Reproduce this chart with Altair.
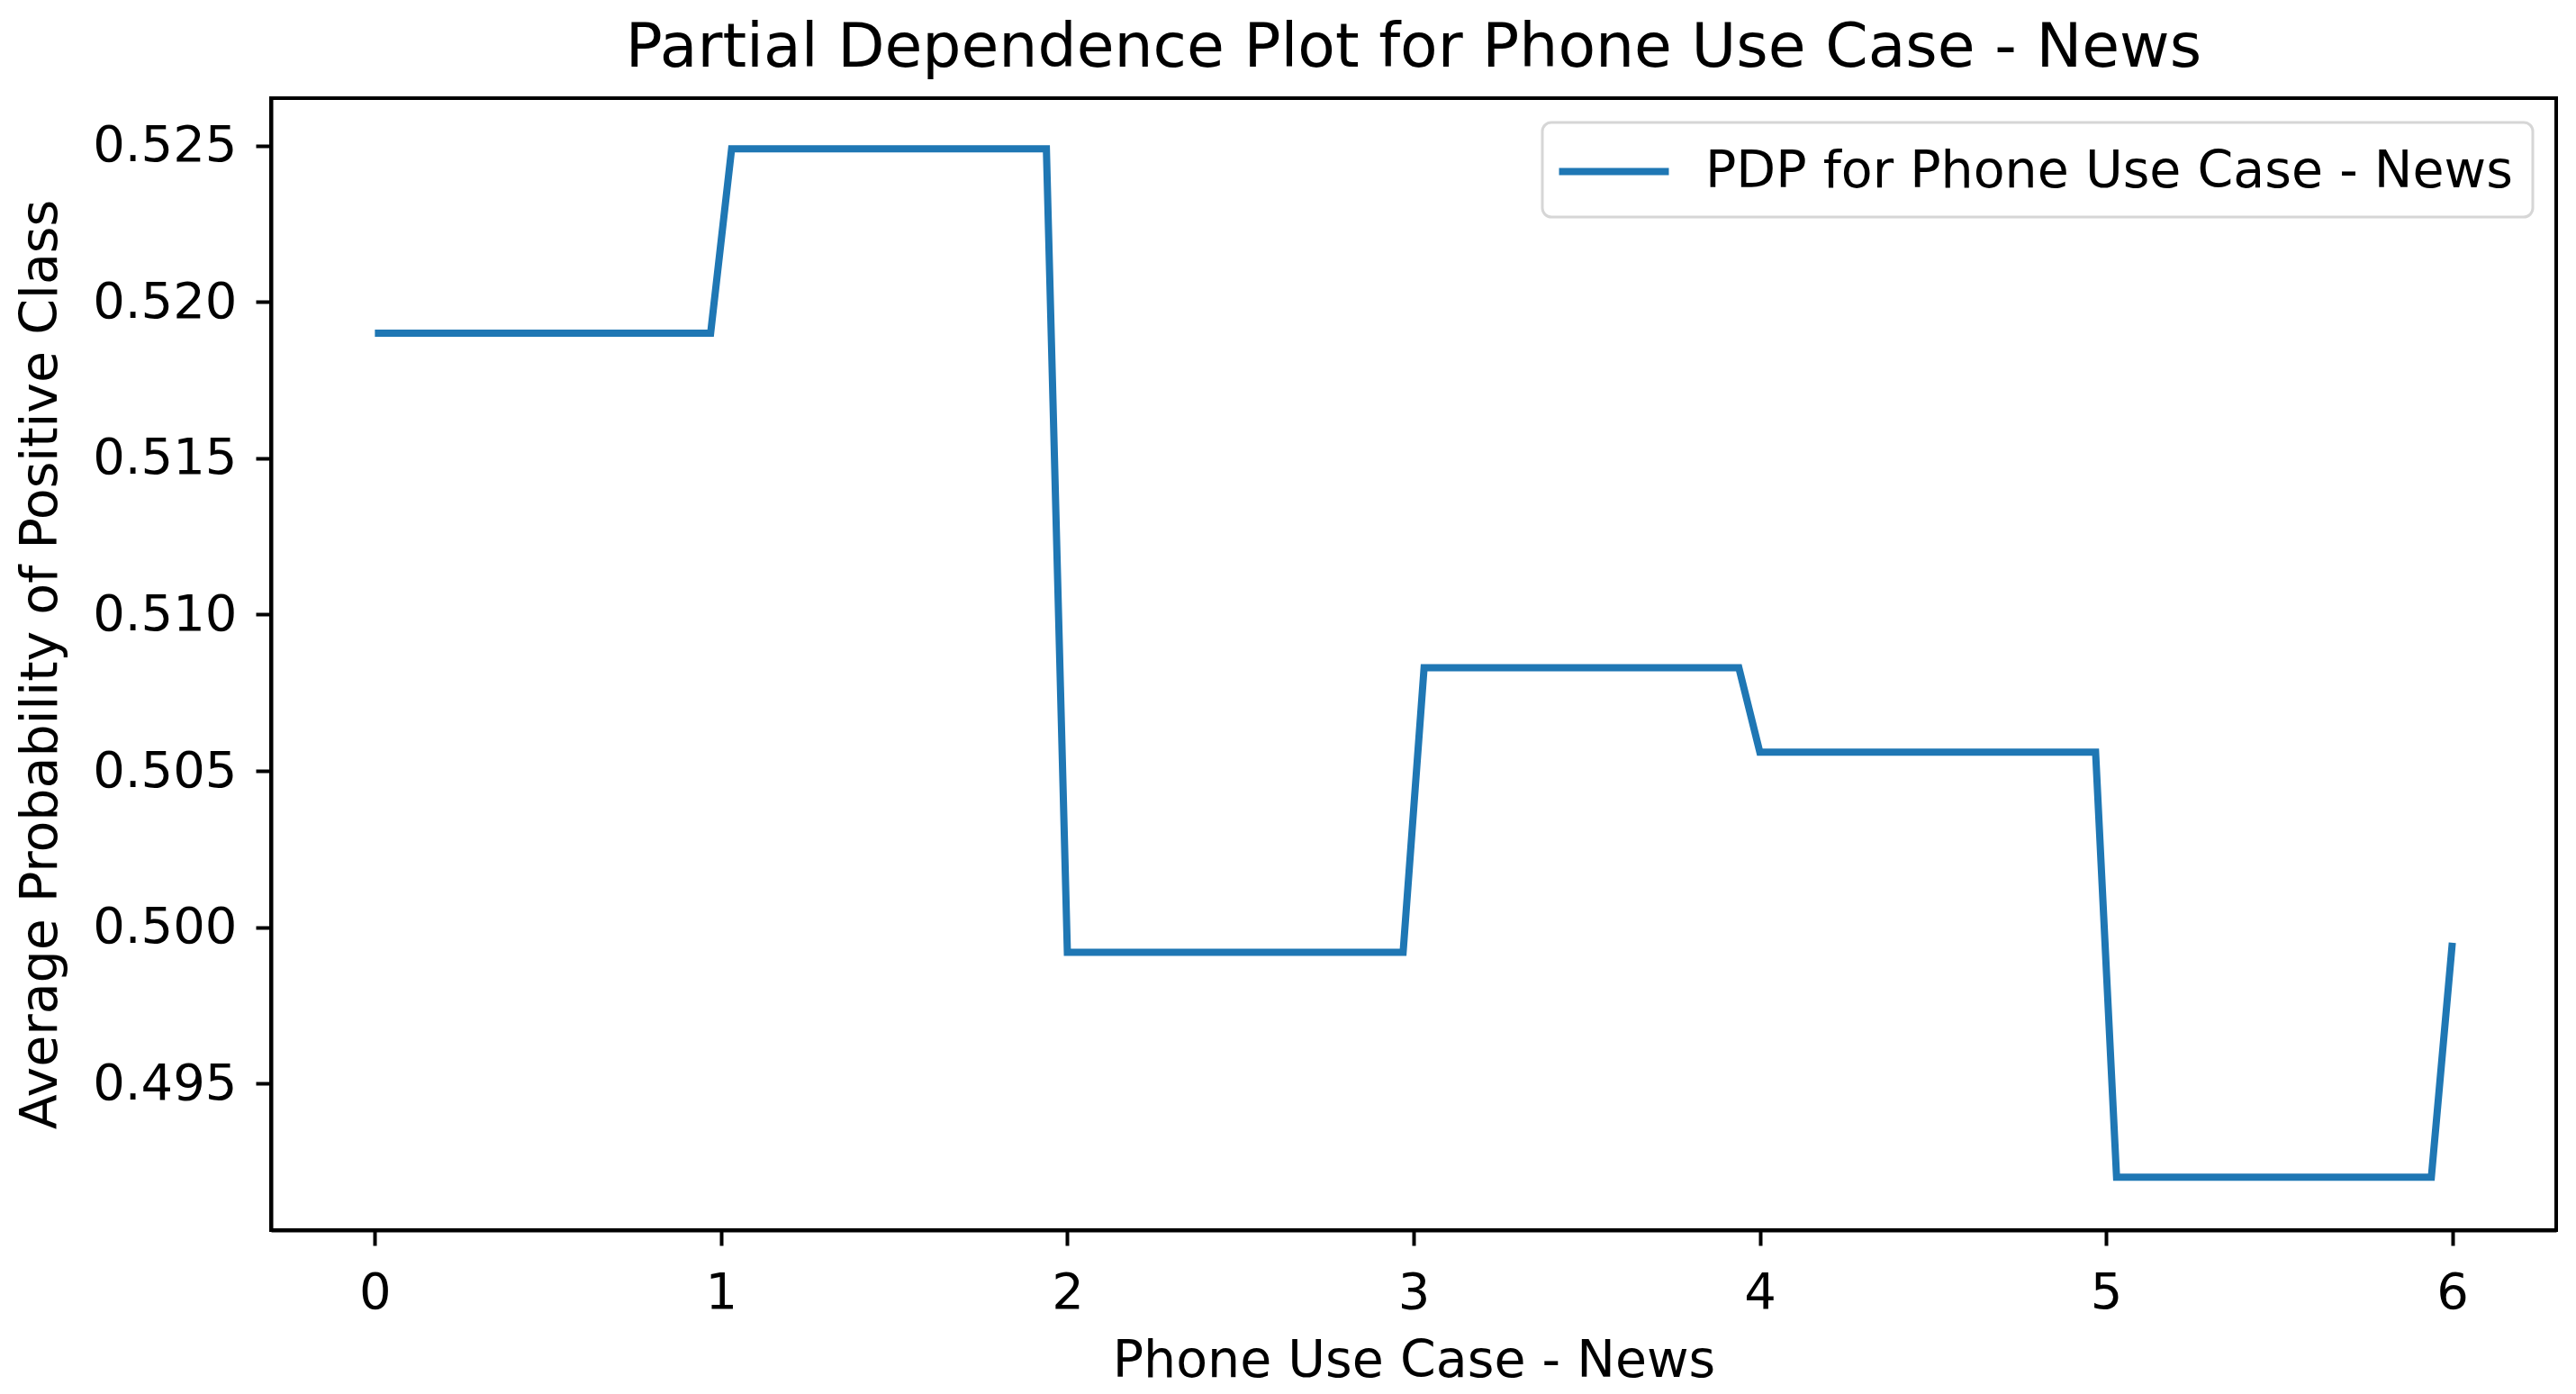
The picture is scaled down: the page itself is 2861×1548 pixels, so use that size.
import altair as alt
import pandas as pd

# Vertices of the partial dependence curve (grid points where the slope changes)
x_vals = [0.0, 0.9697, 1.0303, 1.9394, 2.0, 2.9697, 3.0303, 3.9394, 4.0, 4.9697, 5.0303, 5.9394, 6.0]
y_vals = [0.5190, 0.5190, 0.5249, 0.5249, 0.4992, 0.4992, 0.5083, 0.5083, 0.5056, 0.5056, 0.4920, 0.4920, 0.4995]
series_name = "PDP for Phone Use Case - News"
x_ticks = [0, 1, 2, 3, 4, 5, 6]
y_ticks = [0.495, 0.500, 0.505, 0.510, 0.515, 0.520, 0.525]

df = pd.DataFrame({"x": x_vals, "y": y_vals, "series": [series_name] * len(x_vals)})

FONT = "DejaVu Sans"

chart = alt.Chart(df).mark_line(strokeWidth=8, clip=True).encode(
    x=alt.X("x:Q", scale=alt.Scale(domain=[-0.3, 6.3], nice=False, zero=False),
            axis=alt.Axis(values=x_ticks, format="d", title="Phone Use Case - News")),
    y=alt.Y("y:Q", scale=alt.Scale(domain=[0.49031, 0.52652], nice=False, zero=False),
            axis=alt.Axis(values=y_ticks, format=".3f", title="Average Probability of Positive Class")),
    color=alt.Color("series:N", scale=alt.Scale(range=["#1f77b4"]),
                    legend=alt.Legend(title=None, orient="none", legendX=1412, legendY=27)),
    order=alt.Order("x:Q"),
).properties(
    width=2538, height=1257,
    title=alt.Title("Partial Dependence Plot for Phone Use Case - News", fontSize=68, font=FONT,
                    fontWeight="normal", color="black", anchor="middle", offset=21),
    autosize=alt.AutoSizeParams(type="none"),
    padding={"left": 293, "top": 101, "right": 14, "bottom": 180},
).configure_view(
    stroke="black", strokeWidth=4
).configure_axis(
    grid=False, domainColor="black", domainWidth=4, tickColor="black", tickWidth=4, tickSize=17,
    labelFont=FONT, labelFontSize=56, labelColor="black",
    titleFont=FONT, titleFontSize=57, titleFontWeight="normal", titleColor="black",
).configure_axisX(
    labelPadding=25, titlePadding=20,
).configure_axisY(
    labelPadding=21, titlePadding=28,
).configure_legend(
    symbolType="M-2.14,0H2.14", symbolSize=3249, symbolStrokeWidth=8, symbolOffset=25,
    labelFontSize=57, labelFont=FONT, labelColor="black",
    labelOffset=69, labelLimit=3000, padding=22,
    cornerRadius=10, strokeColor="#d6d6d6", strokeWidth=3, fillColor="white",
)

chart.save("out.html", embed_options={"renderer": "svg", "actions": False})
